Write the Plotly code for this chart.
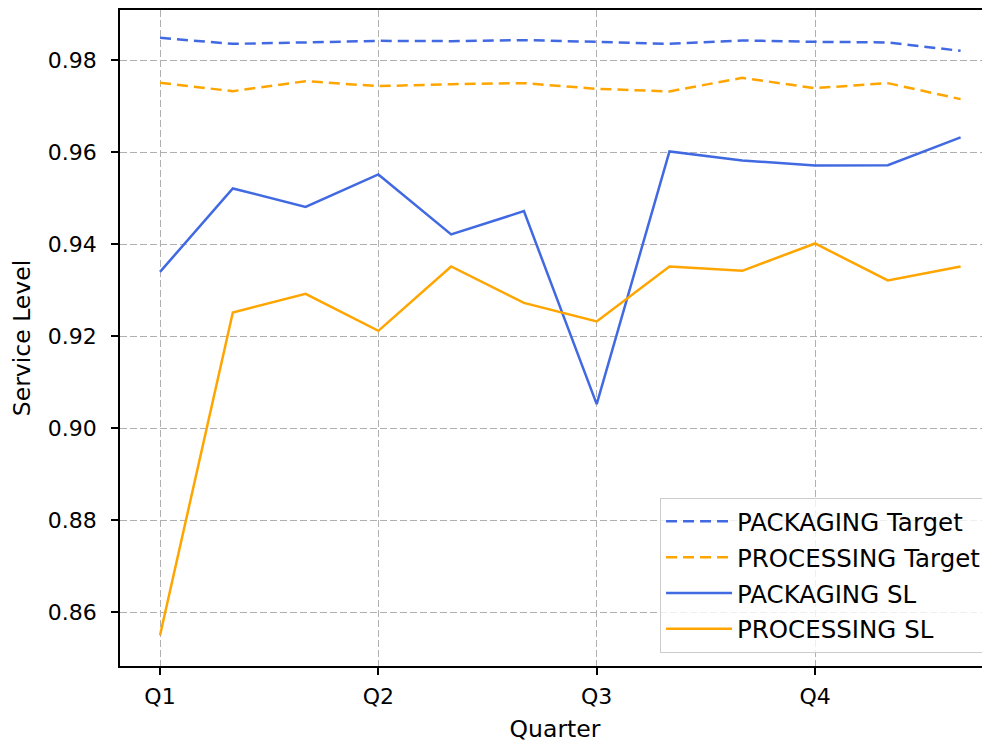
import plotly.graph_objects as go

x_idx = list(range(12))
tick_vals = [0, 3, 6, 9]
tick_text = ["Q1", "Q2", "Q3", "Q4"]

packaging_target = [0.98485, 0.98354, 0.98385, 0.98420, 0.98413, 0.98435,
                    0.98398, 0.98354, 0.98428, 0.98398, 0.98385, 0.98202]
processing_target = [0.97507, 0.97326, 0.97543, 0.97435, 0.97478, 0.97500,
                     0.97376, 0.97320, 0.97615, 0.97391, 0.97500, 0.97152]
packaging_sl = [0.93398, 0.95211, 0.94811, 0.95515, 0.94211, 0.94717,
                0.90522, 0.96015, 0.95820, 0.95711, 0.95717, 0.96320]
processing_sl = [0.85500, 0.92515, 0.92920, 0.92115, 0.93515, 0.92724,
                 0.92320, 0.93515, 0.93420, 0.94015, 0.93211, 0.93515]

BLUE = "#4169E1"
ORANGE = "#FFA500"
DASH = "11px,6px"

fig = go.Figure()
fig.add_trace(go.Scatter(x=x_idx, y=packaging_target, mode="lines", name="PACKAGING Target",
                         legendgroup="a", line=dict(color=BLUE, width=2.5, dash=DASH)))
fig.add_trace(go.Scatter(x=x_idx, y=processing_target, mode="lines", name="PROCESSING Target",
                         legendgroup="b", line=dict(color=ORANGE, width=2.5, dash=DASH)))
fig.add_trace(go.Scatter(x=x_idx, y=packaging_sl, mode="lines", name="PACKAGING SL",
                         legendgroup="c", line=dict(color=BLUE, width=2.5)))
fig.add_trace(go.Scatter(x=x_idx, y=processing_sl, mode="lines", name="PROCESSING SL",
                         legendgroup="d", line=dict(color=ORANGE, width=2.5)))

fig.update_layout(
    width=982, height=738,
    margin=dict(l=112, r=0, t=2, b=80),
    plot_bgcolor="white", paper_bgcolor="white",
    font=dict(family="DejaVu Sans", size=22, color="black"),
    showlegend=True,
    legend=dict(x=0.9966, y=0.02, xanchor="right", yanchor="bottom",
                bgcolor="rgba(255,255,255,0.8)", bordercolor="#cccccc", borderwidth=1,
                font=dict(size=24.5), tracegroupgap=1, traceorder="grouped",
                itemwidth=66),
)
axis_common = dict(
    showline=True, linecolor="black", linewidth=1.5,
    ticks="outside", ticklen=7, tickcolor="black", tickwidth=1.5,
    showgrid=True, gridcolor="#b0b0b0", griddash="7px,3px", gridwidth=1.2,
    zeroline=False, tickfont=dict(size=22),
)
fig.update_xaxes(
    range=[-0.55, 11.404], tickmode="array", tickvals=tick_vals, ticktext=tick_text,
    mirror=True, ticklabelstandoff=3,
    title=dict(text="Quarter", standoff=12, font=dict(size=23.5)),
    **axis_common,
)
fig.update_yaxes(
    range=[0.8483, 0.9909], tickmode="array",
    tickvals=[0.86, 0.88, 0.90, 0.92, 0.94, 0.96, 0.98], tickformat=".2f",
    mirror=False, ticklabelstandoff=10,
    title=dict(text="Service Level", standoff=12, font=dict(size=23.5)),
    **axis_common,
)

fig.write_html("out.html")
